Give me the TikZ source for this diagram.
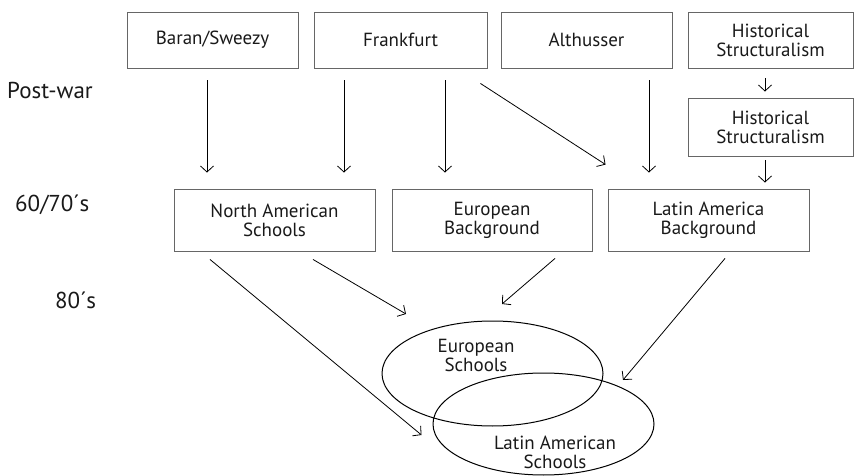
\documentclass[tikz,border=0pt]{standalone}
\usepackage{fontspec}
\setmainfont{PT Sans}
\usetikzlibrary{arrows.meta,shapes.geometric}
\begin{document}
\begin{tikzpicture}[x=1pt,y=-1pt,
  box/.style={draw=black!60, line width=0.9pt, rectangle, inner sep=0pt, align=center,
    text=black!90, font=\fontsize{19}{19}\selectfont},
  era/.style={font=\fontsize{23}{23}\selectfont, inner sep=0pt, text=black!90},
  arr/.style={line width=0.8pt, -{Straight Barb[length=6pt,width=13pt]}},
  oval/.style={draw, ellipse, line width=1pt, inner sep=0pt},
  lbl/.style={align=center, inner sep=0pt, text=black!90, font=\fontsize{19}{19}\selectfont}
]
\useasboundingbox (0,0) rectangle (855,476);
% era labels
\node[era, anchor=west] (pw) at (7,90) {Post-war};
\node[era, anchor=west] (sx) at (15,205) {60/70´s};
\node[era, anchor=west] (ei) at (55,300) {80´s};
% top row
\node[box, minimum width=171pt, minimum height=56pt] (bs) at (212.5,40) {Baran/Sweezy};
\node[box, minimum width=173pt, minimum height=56pt] (fr) at (400.5,40) {Frankfurt};
\node[box, minimum width=171pt, minimum height=56pt] (al) at (586.5,40) {Althusser};
\node[box, minimum width=165pt, minimum height=56pt] (hs1) at (770.5,40) {Historical\\Structuralism};
\node[box, minimum width=165pt, minimum height=58pt] (hs2) at (770.5,127) {Historical\\Structuralism};
% middle row
\node[box, minimum width=201pt, minimum height=62pt] (na) at (274.5,220) {North American\\Schools};
\node[box, minimum width=200pt, minimum height=62pt] (eb) at (492,220) {European\\Background};
\node[box, minimum width=201pt, minimum height=62pt] (lab) at (708.5,220) {Latin America\\Background};
% ellipses
\node[oval, minimum width=221pt, minimum height=105pt] (e1) at (492.5,373.5) {};
\node[oval, minimum width=221pt, minimum height=102pt] (e2) at (543.5,424) {};
\node[lbl] (t1) at (476,355) {European\\Schools};
\node[lbl] (t2) at (555,452) {Latin American\\Schools};
% top arrows
\draw[arr, shorten <=12pt, shorten >=16pt] (bs.south -| 207,0) -- (na.north -| 207,0);
\draw[arr, shorten <=12pt, shorten >=16pt] (fr.south -| 344,0) -- (na.north -| 344,0);
\draw[arr, shorten <=12pt, shorten >=16pt] (fr.south -| 445,0) -- (eb.north -| 445,0);
\draw[arr] ([shift={(-7,15)}]fr.south east) -- ([shift={(-2,-24)}]lab.north west);
\draw[arr, shorten <=12pt, shorten >=16pt] (al.south -| 649,0) -- (lab.north -| 649,0);
\draw[arr, shorten <=10pt, shorten >=6pt] (hs1.south -| 765,0) -- (hs2.north -| 765,0);
\draw[arr, shorten <=4pt, shorten >=6pt] (hs2.south -| 765,0) -- (lab.north -| 765,0);
% lower arrows
\draw[arr] ([shift={(-64.5,8)}]na.south) -- ([shift={(-11,11)}]e2.west);
\draw[arr] ([shift={(38.5,8)}]na.south) -- ([shift={(-86.5,-6.5)}]e1.north);
\draw[arr] ([shift={(63,7)}]eb.south) -- ([shift={(9.5,-16.5)}]e1.north);
\draw[arr] ([shift={(16.5,7)}]lab.south) -- ([shift={(79.5,-44)}]e2.center);
\end{tikzpicture}
\end{document}
